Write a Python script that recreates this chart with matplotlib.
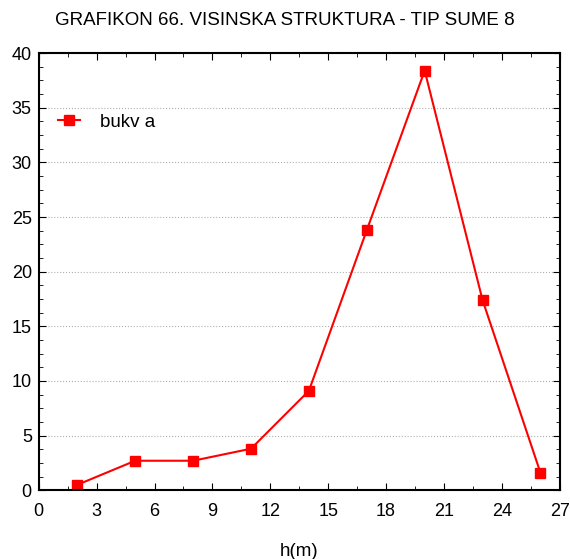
import matplotlib
matplotlib.use('Agg')
import matplotlib.pyplot as plt
from matplotlib.ticker import MultipleLocator

plt.rcParams['font.family'] = ['Liberation Sans', 'DejaVu Sans']

heights = [2, 5, 8, 11, 14, 17, 20, 23, 26]
bukva = [0.5, 2.7, 2.7, 3.8, 9.1, 23.8, 38.4, 17.4, 1.6]

fig = plt.figure(figsize=(5.7, 5.59), dpi=100)
ax = fig.add_axes([0.068, 0.123, 0.914, 0.782])

ax.plot(heights, bukva, color='red', marker='s', markersize=6.5, linewidth=1.5, label='bukv a')

ax.set_xlim(0, 27)
ax.set_ylim(0, 40)
ax.xaxis.set_major_locator(MultipleLocator(3))
ax.xaxis.set_minor_locator(MultipleLocator(1.5))
ax.yaxis.set_major_locator(MultipleLocator(5))
ax.yaxis.set_minor_locator(MultipleLocator(1.25))
ax.tick_params(which='both', direction='in', top=True, right=True, labelsize=13)
ax.tick_params(which='major', length=5)
ax.tick_params(which='minor', length=3)
ax.tick_params(axis='x', pad=9)
ax.tick_params(axis='y', pad=5)
ax.grid(axis='y', which='major', color='#b0b0b0', linestyle=':', linewidth=0.8)
for s in ax.spines.values():
    s.set_linewidth(1.5)

ax.set_xlabel('h(m)', fontsize=13.5, labelpad=17)
fig.suptitle('GRAFIKON 66. VISINSKA STRUKTURA - TIP SUME 8', fontsize=13.5, y=0.978)
ax.legend(loc='upper left', bbox_to_anchor=(0.0, 0.905), frameon=False, fontsize=13.5,
          handlelength=1.2, handletextpad=1.05, borderaxespad=0.0, borderpad=1.0)

fig.savefig('out.png', dpi=100)
